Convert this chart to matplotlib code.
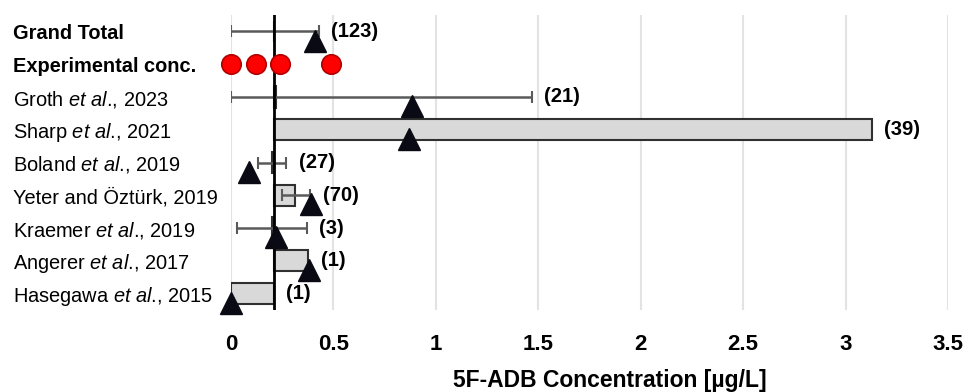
import numpy as np
import matplotlib
matplotlib.use("Agg")
import matplotlib.pyplot as plt

plt.rcParams['font.family'] = ['Liberation Sans', 'DejaVu Sans']
plt.rcParams['mathtext.fontset'] = 'custom'
plt.rcParams['mathtext.rm'] = 'Liberation Sans'
plt.rcParams['mathtext.it'] = 'Liberation Sans:italic'

# rows, top to bottom (period kept outside mathtext so no extra gap appears)
studies = ["Grand Total", "Experimental conc.",
           r"Groth $\it{et}$ $\it{al}$., 2023", r"Sharp $\it{et}$ $\it{al}$., 2021",
           r"Boland $\it{et}$ $\it{al}$., 2019", "Yeter and Öztürk, 2019",
           r"Kraemer $\it{et}$ $\it{al}$., 2019", r"Angerer $\it{et}$ $\it{al}$., 2017",
           r"Hasegawa $\it{et}$ $\it{al}$., 2015"]
bold_rows = [0, 1]

# median (bars), mean (triangles), range (error bars), number of cases
median = [0.21, np.nan, 0.22, 3.13, 0.20, 0.31, 0.20, 0.375, 0.0]
mean = [0.41, np.nan, 0.885, 0.87, 0.09, 0.39, 0.22, 0.38, 0.0]
err_low = [0.0, np.nan, 0.0, np.nan, 0.13, 0.25, 0.03, np.nan, np.nan]
err_high = [0.43, np.nan, 1.47, np.nan, 0.27, 0.385, 0.37, np.nan, np.nan]
n_cases = [123, None, 21, 39, 27, 70, 3, 1, 1]

exp_conc = [0.0, 0.12, 0.24, 0.49]

base = 0.21  # vertical axis crosses at grand total median

median = np.array(median)
mean = np.array(mean)
err_low = np.array(err_low)
err_high = np.array(err_high)

nrows = len(studies)
y = np.arange(nrows)[::-1].astype(float)

fig = plt.figure(figsize=(9.78, 3.92), dpi=100)
ax = fig.add_axes([231 / 978, 1 - 310 / 392, (948 - 231) / 978, 295 / 392])

# bars from the axis crossing to the median
ok = ~np.isnan(median)
ax.barh(y[ok], median[ok] - base, left=base, height=0.65,
        color='#d9d9d9', edgecolor='#303030', linewidth=1.5, zorder=3)

# range
ok = ~np.isnan(err_low)
mid = (err_low[ok] + err_high[ok]) / 2
ax.errorbar(mid, y[ok], xerr=(err_high[ok] - err_low[ok]) / 2, fmt='none',
            ecolor='#5a5a5a', elinewidth=1.8, capsize=4, capthick=1.5, zorder=4)

# axis crossing line
ax.axvline(base, color='black', lw=2.0, zorder=5)

# means
ok = ~np.isnan(mean)
ax.plot(mean[ok], y[ok] - 0.28, linestyle='none', marker='^', ms=16,
        color='#0a0a14', zorder=6, clip_on=False)

# experimental concentrations
ax.plot(exp_conc, [y[1]] * len(exp_conc), linestyle='none', marker='o', ms=14,
        markerfacecolor='#ff0000', markeredgecolor='#b00000', markeredgewidth=1.2,
        zorder=6, clip_on=False)

# case counts
for i, n in enumerate(n_cases):
    if n is None:
        continue
    right = np.nanmax([base, median[i], mean[i], err_high[i]])
    ax.text(right + 0.06, y[i], f"({n})", fontsize=14.5, fontweight='bold',
            va='center', ha='left', zorder=7)

ax.set_xlim(0, 3.5)
ax.set_ylim(-0.5, nrows - 0.5)
ax.set_xticks(np.arange(0, 3.51, 0.5))
ax.set_xticklabels(["0", "0.5", "1", "1.5", "2", "2.5", "3", "3.5"],
                   fontsize=16, fontweight='bold')
ax.set_yticks(y)
ax.set_yticklabels(studies, fontsize=14.4)
for i, lab in enumerate(ax.get_yticklabels()):
    lab.set_horizontalalignment('left')
    if i in bold_rows:
        lab.set_fontweight('bold')
ax.tick_params(axis='y', length=0, pad=157)
ax.tick_params(axis='x', length=0, pad=17)

ax.grid(axis='x', color='#e3e3e3', lw=1.5, zorder=0)
ax.set_axisbelow(True)
for s in ax.spines.values():
    s.set_visible(False)

ax.set_xlabel("5F-ADB Concentration [µg/L]", fontsize=16.5, fontweight='bold')
ax.xaxis.set_label_coords((610 - 231) / (948 - 231), (310 - 381) / 295)
ax.xaxis.label.set_verticalalignment('center')

fig.savefig("out.png", dpi=100)
